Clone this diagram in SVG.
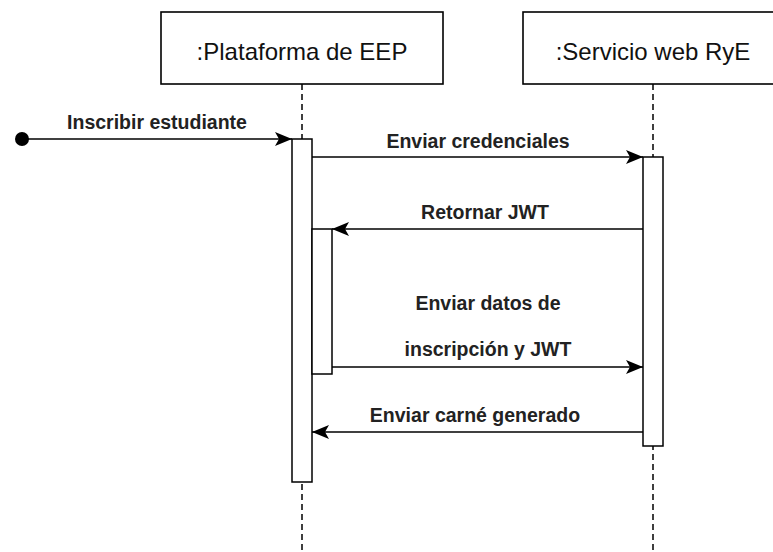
<svg xmlns="http://www.w3.org/2000/svg" width="773" height="552" viewBox="0 0 773 552">
<style>
.box{fill:#fff;stroke:#000;stroke-width:1.6}
.life{stroke:#000;stroke-width:1.5;stroke-dasharray:6 4;fill:none}
.act{fill:#fff;stroke:#000;stroke-width:1.5}
.msg{stroke:#000;stroke-width:1.5;fill:none;marker-end:url(#arr)}
.lbl{font-family:"Liberation Sans",Arial,sans-serif;font-size:19.5px;font-weight:bold;fill:#222;text-anchor:middle}
.title{font-family:"Liberation Sans",Arial,sans-serif;font-size:24px;fill:#111;text-anchor:middle}
</style>
<defs>
<marker id="arr" markerWidth="18" markerHeight="14" refX="17" refY="7" orient="auto" markerUnits="userSpaceOnUse">
<path d="M0,0 L17,7 L0,14 L4,7 Z" fill="#000"/>
</marker>
</defs>
<rect width="773" height="552" fill="#fff"/>
<g id="plataforma">
<rect class="box" x="161" y="12" width="282" height="72"/>
<text class="title" x="302" y="60">:Plataforma de EEP</text>
<line class="life" x1="302" y1="84" x2="302" y2="552"/>
<rect class="act" x="292" y="139" width="20" height="343"/>
<rect class="act" x="312" y="229" width="20" height="145"/>
</g>
<g id="servicio">
<rect class="box" x="523" y="12" width="262" height="72"/>
<text class="title" x="653" y="60">:Servicio web RyE</text>
<line class="life" x1="653" y1="84" x2="653" y2="552"/>
<rect class="act" x="643" y="157" width="20" height="289"/>
</g>
<g id="inicio">
<circle cx="22" cy="139" r="7" fill="#000"/>
</g>
<g id="connectors">
<line class="msg" x1="22" y1="139" x2="292" y2="139"/>
<text class="lbl" x="157" y="129">Inscribir estudiante</text>
<line class="msg" x1="312" y1="157" x2="643" y2="157"/>
<text class="lbl" x="478" y="148">Enviar credenciales</text>
<line class="msg" x1="643" y1="229" x2="332" y2="229"/>
<text class="lbl" x="485" y="219">Retornar JWT</text>
<line class="msg" x1="332" y1="367" x2="643" y2="367"/>
<text class="lbl" x="488" y="310">Enviar datos de</text>
<text class="lbl" x="488" y="356">inscripción y JWT</text>
<line class="msg" x1="643" y1="432" x2="312" y2="432"/>
<text class="lbl" x="475" y="422">Enviar carné generado</text>
</g>
</svg>
